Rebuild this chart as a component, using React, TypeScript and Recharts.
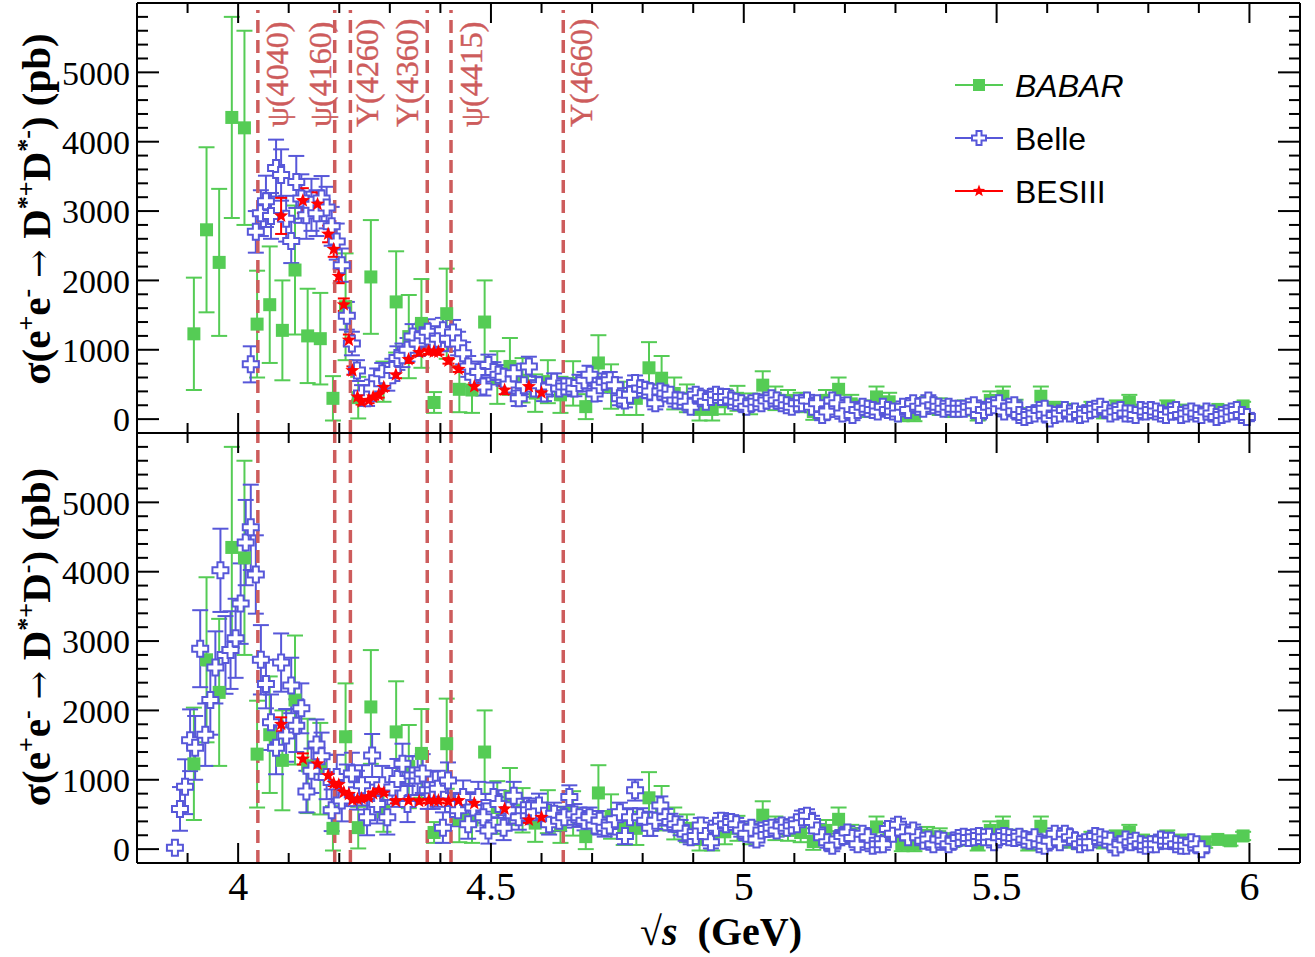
import React from 'react';
import { ScatterChart, Scatter, XAxis, YAxis, ErrorBar, ReferenceLine } from 'recharts';

const SERIF = '"Liberation Serif", "Times New Roman", serif';
const SANS = '"Liberation Sans", Arial, sans-serif';
const GREEN = '#55cc55';
const BLUE = '#5757d9';
const RED = '#ff0000';
const LINE_RED = '#cd5c5c';
const LABEL_RED = '#cd5c5c';

const X_DOMAIN = [3.8, 6.1];
const Y_DOMAIN = [-200, 6000];
const X_TICKS = [3.9, 4, 4.1, 4.2, 4.3, 4.4, 4.5, 4.6, 4.7, 4.8, 4.9, 5, 5.1, 5.2, 5.3, 5.4, 5.5, 5.6, 5.7, 5.8, 5.9, 6];
const Y_TICKS = [0, 200, 400, 600, 800, 1000, 1200, 1400, 1600, 1800, 2000, 2200, 2400, 2600, 2800, 3000,
  3200, 3400, 3600, 3800, 4000, 4200, 4400, 4600, 4800, 5000, 5200, 5400, 5600, 5800];

// BABAR, 25 MeV bins, same points shown in both panels
const BABAR_FIRST = 3.9125;
const BABAR_BIN = 0.025;
const babarVal = [
  1230, 2730, 2260, 4350, 4200, 1370, 1650, 1280, 2150, 1200,
  1160, 300, 1620, 310, 2050, 540, 1690, 1190, 1380, 240,
  1520, 430, 420, 1400, 600, 760, 560, 375, 540, 350,
  515, 180, 810, 470, 300, 300, 740, 590, 370, 300,
  140, 140, 250, 300, 220, 490, 300, 270, 240, 110,
  270, 430, 220, 150, 320, 250, 70, 70, 200, 180,
  130, 160, 70, 270, 330, 170, 70, 330, 150, 120,
  90, 150, 100, 170, 240, 120, 100, 170, 120, 80,
  100, 140, 120, 190,
];
const babarErr = [
  810, 1190, 1060, 1450, 1400, 770, 840, 720, 930, 680,
  660, 320, 770, 300, 820, 290, 730, 600, 640, 150,
  650, 330, 330, 600, 380, 410, 320, 270, 310, 260,
  320, 180, 400, 320, 240, 240, 370, 320, 230, 200,
  160, 160, 180, 180, 150, 200, 170, 150, 140, 120,
  150, 170, 130, 120, 150, 130, 100, 100, 120, 120,
  100, 110, 90, 130, 140, 110, 90, 140, 100, 100,
  90, 100, 90, 100, 110, 90, 90, 100, 90, 80,
  80, 40, 70, 60,
];

// Belle, 10 MeV bins
const BELLE_BIN = 0.01;
const BELLE_TOP_FIRST = 4.025;
const belleTopVal = [
  790, 2700, 2970, 3140, 2930, 3620, 3520, 2890, 2570, 3420,
  3180, 2940, 3090, 2970, 3180, 3050, 2780, 2560, 2220, 1490,
  1090, 700, 370, 300, 440, 590, 660, 560, 710, 880,
  920, 1000, 1190, 1090, 1210, 1260, 1120, 1160, 1280, 1160,
  1250, 1090, 950, 760, 610, 680, 470, 780, 680, 640,
  610, 500, 660, 300, 490, 760, 440, 490, 370, 470,
  540, 440, 470, 470, 440, 520, 560, 640, 370, 490,
  540, 560, 490, 300, 270, 350, 520, 440, 420, 400,
  230, 400, 370, 350, 270, 270, 250, 180, 350, 300,
  250, 320, 350, 320, 320, 270, 250, 230, 180, 230,
  250, 230, 270, 300, 270, 230, 200, 180, 230, 230,
  270, 180, 230, 60, 110, 270, 230, 80, 200, 60,
  130, 180, 150, 130, 110, 180, 130, 110, 80, 180,
  130, 230, 180, 150, 270, 200, 180, 150, 180, 150,
  150, 150, 180, 200, 60, 130, 180, 200, 230, 110,
  180, 200, 60, 30, 60, 80, 130, 150, 10, 60,
  80, 130, 80, 110, 60, 80, 130, 150, 180, 130,
  80, 110, 130, 80, 80, 60, 130, 110, 130, 110,
  80, 60, 110, 130, 60, 80, 110, 80, 60, 110,
  80, 30, 60, 80, 110, 130, 60, 30,
];
const belleTopErr = [
  260, 300, 330, 370, 330, 410, 370, 330, 320, 375,
  350, 340, 375, 330, 325, 300, 280, 260, 240, 200,
  170, 150, 120, 110, 130, 140, 150, 150, 160, 170,
  170, 170, 180, 180, 180, 180, 180, 180, 180, 180,
  180, 170, 160, 150, 140, 150, 130, 150, 140, 140,
  130, 130, 140, 110, 130, 140, 120, 120, 110, 120,
  120, 110, 120, 120, 110, 120, 120, 130, 110, 110,
  120, 120, 110, 100, 100, 100, 110, 100, 100, 100,
  90, 100, 90, 90, 90, 90, 90, 80, 90, 90,
  90, 90, 90, 90, 90, 80, 80, 80, 80, 80,
  80, 80, 85, 80, 80, 80, 75, 80, 80, 80,
  80, 80, 80, 75, 80, 80, 80, 75, 80, 75,
  75, 75, 75, 75, 75, 75, 75, 75, 70, 75,
  75, 75, 75, 75, 75, 75, 75, 75, 75, 75,
  70, 70, 70, 70, 65, 70, 70, 70, 70, 70,
  70, 70, 65, 65, 65, 70, 70, 70, 60, 65,
  70, 70, 70, 70, 65, 70, 70, 70, 70, 70,
  65, 65, 65, 65, 65, 65, 65, 65, 65, 65,
  65, 65, 65, 65, 65, 65, 65, 65, 65, 65,
  65, 60, 65, 65, 65, 65, 60, 60,
];
const BELLE_BOT_FIRST = 3.875;
const belleBotVal = [
  20, 580, 900, 1570, 1460, 2890, 1650, 2150, 2620, 4020,
  2800, 2870, 3040, 3540, 4420, 4640, 3960, 2730, 2380, 1830,
  1460, 2690, 1640, 2360, 1780, 2030, 830, 1130, 1510, 1340,
  1040, 560, 1040, 700, 920, 1090, 850, 920, 460, 1350,
  650, 920, 460, 890, 1010, 1230, 650, 1060, 1060, 1090,
  850, 850, 870, 310, 990, 580, 560, 750, 360, 600,
  750, 460, 270, 750, 650, 310, 560, 770, 460, 560,
  560, 530, 630, 480, 360, 510, 410, 460, 750, 500,
  460, 410, 460, 340, 410, 310, 340, 430, 530, 190,
  460, 850, 460, 410, 310, 410, 630, 460, 390, 360,
  310, 220, 170, 190, 340, 190, 100, 310, 410, 360,
  390, 360, 270, 220, 310, 140, 270, 290, 310, 270,
  340, 310, 340, 360, 460, 480, 390, 270, 170, 100,
  50, 140, 190, 240, 160, 70, 220, 170, 50, 70,
  70, 290, 220, 350, 240, 170, 270, 170, 120, 140,
  70, 140, 120, 70, 120, 160, 180, 160, 170, 190,
  170, 180, 100, 170, 190, 170, 160, 180, 140, 120,
  170, 70, 50, 120, 220, 100, 220, 170, 120, 70,
  100, 100, 190, 170, 140, 120, 25, 70, 140, 100,
  120, 70, 50, 70, 70, 140, 120, 120, 70, 50,
  50, 100, 70, 0,
];
const belleBotErr = [
  30, 315, 395, 445, 460, 555, 450, 500, 520, 600,
  560, 560, 570, 580, 615, 615, 565, 500, 350, 400,
  380, 420, 380, 400, 380, 360, 300, 320, 360, 340,
  320, 300, 320, 300, 300, 300, 280, 290, 260, 310,
  280, 280, 250, 280, 290, 290, 260, 280, 280, 280,
  270, 270, 260, 220, 260, 230, 230, 240, 210, 220,
  220, 200, 190, 210, 200, 180, 190, 200, 180, 180,
  170, 170, 170, 160, 150, 160, 150, 150, 170, 150,
  140, 140, 140, 130, 140, 130, 130, 140, 140, 120,
  130, 150, 130, 130, 120, 120, 130, 120, 120, 110,
  110, 100, 100, 100, 110, 100, 90, 100, 110, 100,
  100, 90, 90, 90, 90, 90, 90, 90, 90, 90,
  90, 90, 90, 90, 95, 95, 90, 90, 85, 80,
  80, 85, 85, 90, 85, 80, 85, 85, 80, 80,
  80, 85, 85, 90, 85, 85, 85, 85, 80, 80,
  80, 80, 80, 80, 80, 80, 80, 80, 80, 80,
  80, 80, 75, 80, 80, 80, 80, 80, 75, 75,
  75, 75, 70, 75, 80, 75, 80, 75, 75, 70,
  75, 75, 75, 75, 75, 75, 70, 70, 75, 70,
  70, 70, 70, 70, 70, 70, 70, 70, 70, 70,
  70, 70, 70, 60,
];

// BESIII scan energies (GeV) and cross sections
const besE = [4.085, 4.128, 4.157, 4.178, 4.189, 4.199, 4.209, 4.219, 4.226, 4.236, 4.244, 4.258, 4.267, 4.278,
  4.288, 4.312, 4.337, 4.358, 4.377, 4.387, 4.396, 4.416, 4.436, 4.467, 4.527, 4.575, 4.600];
const besTopVal = [2930, 3150, 3100, 2670, 2450, 2060, 1650, 1140, 700, 320, 250, 270, 320, 350,
  460, 640, 860, 960, 980, 970, 970, 840, 720, 470, 420, 470, 380];
const besTopErr = [260, 180, 170, 120, 110, 100, 90, 80, 60, 40, 40, 40, 40, 40,
  50, 50, 50, 40, 40, 40, 40, 40, 40, 50, 60, 60, 60];
const besBotVal = [1800, 1300, 1230, 1060, 950, 930, 820, 790, 710, 720, 730, 750, 800, 850,
  810, 690, 700, 690, 700, 700, 700, 690, 700, 660, 580, 420, 460];
const besBotErr = [100, 80, 60, 50, 40, 40, 40, 40, 30, 30, 30, 30, 30, 30,
  30, 30, 30, 30, 30, 30, 30, 30, 30, 40, 40, 40, 40];

// charmonium(-like) states marked with dashed lines
const resMass = [4.039, 4.191, 4.222, 4.374, 4.421, 4.643];
const resName = ['ψ(4040)', 'ψ(4160)', 'Y(4260)', 'Y(4360)', 'ψ(4415)', 'Y(4660)'];
const resLabelDx = [19, -15, 17, -20, 20, 18];

const binned = (first: number, bin: number, vals: number[], errs: number[]) =>
  vals.map((v, i) => ({ x: +(first + i * bin).toFixed(4), y: v, err: errs[i] ?? 0 }));
const points = (xs: number[], vals: number[], errs: number[]) =>
  xs.map((x, i) => ({ x, y: vals[i], err: errs[i] ?? 0 }));

const babarData = binned(BABAR_FIRST, BABAR_BIN, babarVal, babarErr);
const belleTop = binned(BELLE_TOP_FIRST, BELLE_BIN, belleTopVal, belleTopErr);
const belleBot = binned(BELLE_BOT_FIRST, BELLE_BIN, belleBotVal, belleBotErr);
const besTop = points(besE, besTopVal, besTopErr);
const besBot = points(besE, besBotVal, besBotErr);

function Square({ cx, cy, s = 13 }: { cx: number; cy: number; s?: number }) {
  return <rect x={cx - s / 2} y={cy - s / 2} width={s} height={s} fill={GREEN} />;
}

function OpenCross({ cx, cy, a = 8, b = 3 }: { cx: number; cy: number; a?: number; b?: number }) {
  const d = `M${cx - b},${cy - a} h${2 * b} v${a - b} h${a - b} v${2 * b} h${-(a - b)} v${a - b} h${-2 * b} v${-(a - b)} h${-(a - b)} v${-2 * b} h${a - b} z`;
  return <path d={d} fill="#fff" stroke={BLUE} strokeWidth={2} />;
}

function Star({ cx, cy, R = 7.5 }: { cx: number; cy: number; R?: number }) {
  const pts: string[] = [];
  for (let k = 0; k < 10; k++) {
    const ang = (-90 + k * 36) * Math.PI / 180;
    const r = k % 2 ? R * 0.42 : R;
    pts.push(`${cx + r * Math.cos(ang)},${cy + r * Math.sin(ang)}`);
  }
  return <polygon points={pts.join(' ')} fill={RED} />;
}

const isMajorX = (v: number) => Math.abs(v * 2 - Math.round(v * 2)) < 1e-6;
const fmtX = (v: number) => (Math.abs(v - Math.round(v)) < 1e-6 ? String(Math.round(v)) : v.toFixed(1));

const xTick = (side: 'top' | 'bottom', labels: boolean) => (p: any) => {
  const v = p.payload.value;
  const major = isMajorX(v);
  const len = major ? 20 : 10;
  const dir = side === 'bottom' ? -1 : 1;
  return (
    <g>
      <line x1={p.x} x2={p.x} y1={p.y} y2={p.y + dir * len} stroke="#000" strokeWidth={2} />
      {labels && major && (
        <text x={p.x} y={p.y + 37} textAnchor="middle" fontFamily={SERIF} fontSize={40} fill="#000">
          {fmtX(v)}
        </text>
      )}
    </g>
  );
};

const yTick = (side: 'left' | 'right') => (p: any) => {
  const v = p.payload.value;
  const major = v % 1000 === 0;
  const len = major ? 22 : 11;
  const dir = side === 'left' ? 1 : -1;
  return (
    <g>
      <line x1={p.x} x2={p.x + dir * len} y1={p.y} y2={p.y} stroke="#000" strokeWidth={2} />
      {side === 'left' && major && (
        <text x={p.x - 7} y={p.y} dy="0.36em" textAnchor="end" fontFamily={SERIF} fontSize={34} fill="#000">
          {v}
        </text>
      )}
    </g>
  );
};

const resLabel = (name: string, dx: number) => (p: any) => {
  const vb = p.viewBox || {};
  const cx = (vb.x ?? 0) + dx;
  const by = 127;
  return (
    <text x={cx} y={by} transform={`rotate(-90 ${cx} ${by})`} textAnchor="start" dominantBaseline="central"
      fontFamily={SERIF} fontSize={32} fill={LABEL_RED} stroke={LABEL_RED} strokeWidth={0.4}>
      {name}
    </text>
  );
};

const frame = { stroke: '#000', strokeWidth: 2 };

function Panel({ belle, bes, top }: { belle: any[]; bes: any[]; top: boolean }) {
  // top svg is taller than its plot so the "0" label is not clipped; the lower panel sits over it
  const height = top ? 450 : 526;
  const margin = top ? { top: 2, right: 14, bottom: 16, left: 136 } : { top: 0, right: 14, bottom: 94, left: 136 };
  return (
    <div style={{ position: 'absolute', left: 0, top: top ? 0 : 432 }}>
      <ScatterChart width={1315} height={height} margin={margin}>
        <XAxis xAxisId="b" type="number" dataKey="x" domain={X_DOMAIN} allowDataOverflow ticks={X_TICKS} interval={0}
          height={1} tickSize={0} tickMargin={0} tickLine={false} axisLine={frame} tick={xTick('bottom', !top)} />
        <XAxis xAxisId="t" orientation="top" type="number" dataKey="x" domain={X_DOMAIN} allowDataOverflow ticks={X_TICKS}
          interval={0} height={1} tickSize={0} tickMargin={0} tickLine={false} axisLine={frame} tick={xTick('top', false)} />
        <YAxis yAxisId="l" type="number" dataKey="y" domain={Y_DOMAIN} allowDataOverflow ticks={Y_TICKS} interval={0}
          width={1} tickSize={0} tickMargin={0} tickLine={false} axisLine={frame} tick={yTick('left')} />
        <YAxis yAxisId="r" orientation="right" type="number" dataKey="y" domain={Y_DOMAIN} allowDataOverflow ticks={Y_TICKS}
          interval={0} width={1} tickSize={0} tickMargin={0} tickLine={false} axisLine={frame} tick={yTick('right')} />

        <Scatter data={babarData} xAxisId="b" yAxisId="l" isAnimationActive={false}
          shape={(p: any) => <Square cx={p.cx} cy={p.cy} />}>
          <ErrorBar dataKey="err" direction="y" width={8} stroke={GREEN} strokeWidth={2} />
        </Scatter>
        <Scatter data={belle} xAxisId="t" yAxisId="r" isAnimationActive={false}
          shape={(p: any) => <OpenCross cx={p.cx} cy={p.cy} />}>
          <ErrorBar dataKey="err" direction="y" width={8} stroke={BLUE} strokeWidth={2} />
        </Scatter>
        <Scatter data={bes} xAxisId="b" yAxisId="l" isAnimationActive={false}
          shape={(p: any) => <Star cx={p.cx} cy={p.cy} />}>
          <ErrorBar dataKey="err" direction="y" width={6} stroke={RED} strokeWidth={2} />
        </Scatter>

        {resMass.map((m, i) =>
          top ? (
            <ReferenceLine key={m} xAxisId="b" yAxisId="l" segment={[{ x: m, y: -200 }, { x: m, y: 5900 }]}
              stroke={LINE_RED} strokeWidth={3.5} strokeDasharray="13 7" label={resLabel(resName[i], resLabelDx[i])} />
          ) : (
            <ReferenceLine key={m} xAxisId="b" yAxisId="l" x={m} stroke={LINE_RED} strokeWidth={3.5} strokeDasharray="13 7" />
          )
        )}
      </ScatterChart>
    </div>
  );
}

function YTitle({ cx, cy, last }: { cx: number; cy: number; last: string }) {
  const up = { dy: -15, fontSize: 26 };
  const down = { dy: 15 };
  return (
    <text transform={`translate(${cx},${cy}) rotate(-90)`} textAnchor="middle" fontFamily={SERIF} fontWeight="bold" fontSize={41}>
      σ(e<tspan {...up}>+</tspan><tspan {...down}>e</tspan><tspan {...up}>-</tspan>
      <tspan {...down} fontWeight="normal" fontFamily='"DejaVu Serif", serif' fontSize={34}> → </tspan>
      <tspan>D</tspan><tspan {...up}>*+</tspan><tspan {...down}>D</tspan>
      <tspan {...up}>{last}</tspan><tspan {...down}>) (pb)</tspan>
    </text>
  );
}

function Overlay() {
  return (
    <svg width={1315} height={957} style={{ position: 'absolute', left: 0, top: 0, pointerEvents: 'none' }}>
      <g>
        <line x1={955} x2={1003} y1={85} y2={85} stroke={GREEN} strokeWidth={2} />
        <Square cx={979} cy={85} s={12} />
        <text x={1015} y={97} fontFamily={SANS} fontSize={32} fontStyle="italic">BABAR</text>
        <line x1={955} x2={1003} y1={138} y2={138} stroke={BLUE} strokeWidth={2} />
        <OpenCross cx={979} cy={138} a={7} b={2.5} />
        <text x={1015} y={150} fontFamily={SANS} fontSize={32}>Belle</text>
        <line x1={955} x2={1003} y1={191} y2={191} stroke={RED} strokeWidth={2} />
        <Star cx={979} cy={191} R={6.5} />
        <text x={1015} y={203} fontFamily={SANS} fontSize={32}>BESIII</text>
      </g>
      <YTitle cx={50} cy={209} last="*-" />
      <YTitle cx={50} cy={637} last="-" />
      <text x={721} y={945} textAnchor="middle" fontFamily={SERIF} fontWeight="bold" fontSize={40}>
        √<tspan fontStyle="italic">s</tspan>{'\u00a0\u00a0'}(GeV)
      </text>
    </svg>
  );
}

export default function App() {
  return (
    <div style={{ position: 'absolute', left: 0, top: 0, width: 1315, height: 957, background: '#fff' }}>
      <Panel belle={belleTop} bes={besTop} top />
      <Panel belle={belleBot} bes={besBot} top={false} />
      <Overlay />
    </div>
  );
}
